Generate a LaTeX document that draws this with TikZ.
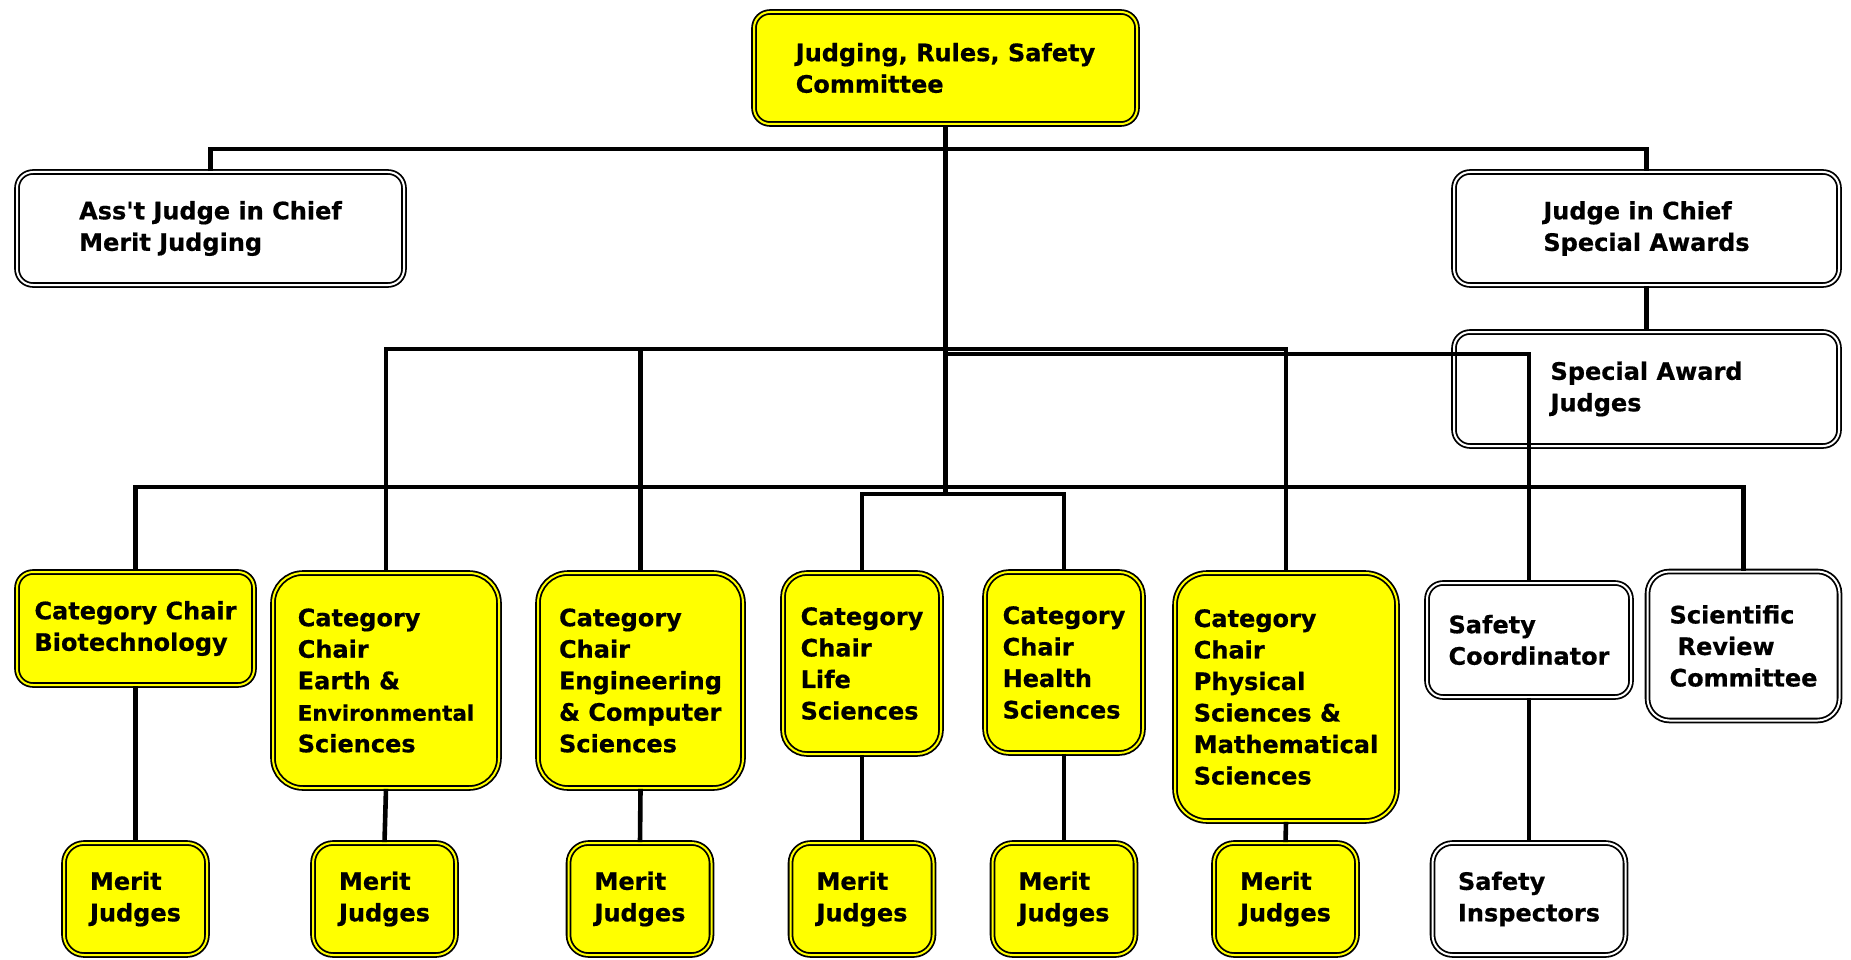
\documentclass[tikz,border=0pt]{standalone}
\usepackage{fontspec}
\setmainfont{DejaVu Sans}[BoldFeatures={FakeBold=0.6}]
\definecolor{chairyellow}{HTML}{FFFF00}
\newcommand{\chartfont}{\fontsize{24}{31.5}\selectfont\bfseries}

\begin{document}
\begin{tikzpicture}[x=1pt,y=-1pt,
  box/.style={draw,line width=1.8pt,double=white,double distance=2pt,rounded corners=16pt,align=left,inner sep=0pt,font=\chartfont},
  chair/.style={box,fill=chairyellow,double=chairyellow},
  wh/.style 2 args={minimum width={#1-6},minimum height={#2-6}},
  conn/.style={line width=4.6pt}]
  \useasboundingbox (0,0) rectangle (1851,960);
  % committee and chiefs
  \node[chair,wh={389}{118}] (jrs) at (945.5,68) {Judging, Rules, Safety\\Committee};
  \node[box,wh={393}{119}] (asst) at (210.5,228.5) {Ass\textquotesingle t Judge in Chief\\Merit Judging};
  \node[box,wh={391}{119}] (jic) at (1646.5,228.5) {Judge in Chief\\Special Awards};
  \node[box,wh={391}{120}] (saj) at (1646.5,389) {Special Award\\Judges};
  % category chairs
  \node[chair,wh={243}{119}] (bio) at (135.5,628.5) {Category Chair\\Biotechnology};
  \node[chair,wh={232}{221},rounded corners=30pt] (earth) at (386,680.5)
    {Category\\Chair\\Earth \&\\{\fontsize{21.5}{31.5}\selectfont Environmental}\\Sciences};
  \node[chair,wh={211}{221},rounded corners=30pt] (eng) at (640.5,680.5)
    {Category\\Chair\\Engineering\\\& Computer\\Sciences};
  \node[chair,wh={164}{187},rounded corners=24pt] (life) at (862,663.5) {Category\\Chair\\Life\\Sciences};
  \node[chair,wh={164}{187},rounded corners=24pt] (health) at (1064,662.5) {Category\\Chair\\Health\\Sciences};
  \node[chair,wh={228}{254},rounded corners=32pt] (phys) at (1286,697)
    {Category\\Chair\\Physical\\Sciences \&\\Mathematical\\Sciences};
  \node[box,wh={210}{120}] (scoord) at (1529,640) {Safety\\Coordinator};
  \node[box,wh={198}{155},rounded corners=22pt] (srev) at (1743.5,646)
    {Scientific\\\hspace*{8pt}Review\\Committee};
  % bottom row
  \foreach \n/\x in {1/135.5,2/384.5,3/640,4/862,5/1064,6/1285.5}
    \node[chair,wh={149}{118},rounded corners=20pt] (mj\n) at (\x,899) {Merit\\Judges};
  \node[box,wh={199}{118},rounded corners=20pt] (sinsp) at (1529,899) {Safety\\Inspectors};

  % connectors
  \draw[conn] (jrs.south) -- (jrs.south |- 0,494);
  \draw[conn] (asst.north) |- (jrs.south |- 0,149) -| (jic.north);
  \draw[conn] (jic.south) -- (saj.north);
  \draw[conn] (earth.north) |- (phys.north |- 0,349) -- (phys.north);
  \draw[conn] (eng.north) -- (eng.north |- 0,349);
  \draw[conn] (jrs.south |- 0,354) -| (scoord.north);
  \draw[conn] (bio.north) |- (srev.north |- 0,487) -- (srev.north);
  \draw[conn] (life.north) |- (health.north |- 0,494) -- (health.north);
  \foreach \a/\b in {bio/mj1,earth/mj2,eng/mj3,life/mj4,health/mj5,phys/mj6,scoord/sinsp}
    \draw[conn] (\a.south) -- (\b.north);
\end{tikzpicture}
\end{document}
